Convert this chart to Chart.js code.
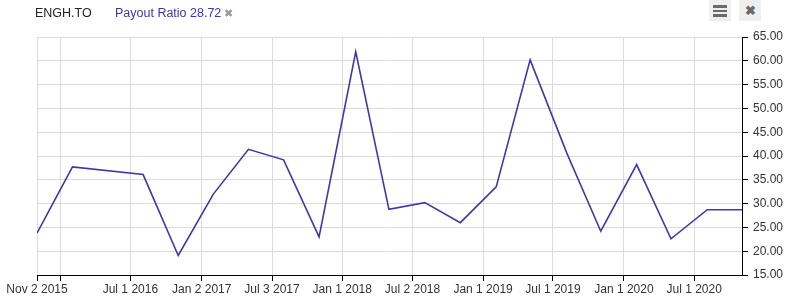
<!DOCTYPE html>
<html>
<head>
<meta charset="utf-8">
<script src="https://cdn.jsdelivr.net/npm/chart.js@4.4.1/dist/chart.umd.min.js"></script>
<style>
  body { margin: 0; background: #fff; font-family: "Liberation Sans", Arial, sans-serif; }
  #wrap { position: relative; width: 794px; height: 303px; }
  #title { position: absolute; left: 35px; top: 6px; font-size: 12.5px; color: #222; }
  #series { position: absolute; left: 115px; top: 6px; font-size: 12.5px; color: #3b34a8; }
  #series span { color: #999; font-size: 11px; margin-left: 3px; }
  .btn { position: absolute; top: 0; width: 22px; height: 21px; background: #efefef; color: #6a6a6a;
         font-size: 14px; text-align: center; line-height: 21px; }
  .bar { position: absolute; left: 4px; width: 14px; height: 2.5px; background: #6a6a6a; }
  canvas { position: absolute; left: 0; top: 0; }
</style>
</head>
<body>
<div id="wrap">
  <canvas id="myChart" width="794" height="303"></canvas>
  <div id="title">ENGH.TO</div>
  <div id="series">Payout Ratio 28.72<span>&#10006;</span></div>
  <div class="btn" style="left:709px">
    <div class="bar" style="top:5px"></div>
    <div class="bar" style="top:9.5px"></div>
    <div class="bar" style="top:14px"></div>
  </div>
  <div class="btn" style="left:739px;font-size:13px;font-weight:bold">&#10006;</div>
</div>
<script>
// Quarterly payout ratio points
const dates = ["2015-11-02", "2016-02-02", "2016-08-03", "2016-11-02", "2017-02-01",
  "2017-05-03", "2017-08-02", "2017-11-02", "2018-02-05", "2018-05-02",
  "2018-08-03", "2018-11-03", "2019-02-04", "2019-05-03", "2019-08-06",
  "2019-11-02", "2020-02-03", "2020-05-02", "2020-08-04", "2020-11-02"];
const payout = [23.8, 37.7, 36.1, 19.1, 32.0, 41.4, 39.2, 23.0, 61.9, 28.8,
  30.2, 26.0, 33.5, 60.2, 40.6, 24.2, 38.2, 22.6, 28.72, 28.72];

// x-axis ticks (empty label = gridline only)
const tickDates = ["2015-11-02", "2016-01-01", "2016-07-01", "2017-01-02", "2017-07-03",
  "2018-01-01", "2018-07-02", "2019-01-01", "2019-07-01", "2020-01-01", "2020-07-01"];
const tickLabels = ["Nov 2 2015", "", "Jul 1 2016", "Jan 2 2017", "Jul 3 2017",
  "Jan 1 2018", "Jul 2 2018", "Jan 1 2019", "Jul 1 2019", "Jan 1 2020", "Jul 1 2020"];

function toTime(s) {
  const p = s.split("-");
  return Date.UTC(+p[0], +p[1] - 1, +p[2]);
}

const points = dates.map((d, i) => ({ x: toTime(d), y: payout[i] }));
const tickTimes = tickDates.map(toTime);

const config = {
  type: "line",
  data: {
    datasets: [{
      label: "Payout Ratio",
      data: points,
      borderColor: "#4236ae",
      borderWidth: 1.6,
      pointRadius: 0,
      tension: 0,
    }],
  },
  options: {
    responsive: false,
    animation: false,
    layout: { padding: { left: 37, top: 37, right: 0, bottom: 0 } },
    plugins: { legend: { display: false }, tooltip: { enabled: false } },
    scales: {
      x: {
        type: "linear",
        min: toTime("2015-11-02"),
        max: toTime("2020-11-02"),
        afterBuildTicks: (scale) => { scale.ticks = tickTimes.map(v => ({ value: v })); },
        afterFit: (scale) => { scale.height = 28; },
        ticks: {
          autoSkip: false,
          maxRotation: 0,
          padding: 1,
          color: "#333",
          font: { family: "Liberation Sans", size: 12 },
          callback: (v) => tickLabels[tickTimes.indexOf(v)],
        },
        grid: { color: "#dcdcdc", tickColor: "#000", tickLength: 6 },
        border: { color: "#000", width: 1 },
      },
      y: {
        position: "right",
        min: 15,
        max: 65,
        afterFit: (scale) => { scale.width = 52; },
        ticks: {
          stepSize: 5,
          padding: 5,
          color: "#333",
          font: { family: "Liberation Sans", size: 12 },
          callback: (v) => v.toFixed(2),
        },
        grid: { color: "#dcdcdc", tickColor: "#000", tickLength: 6 },
        border: { color: "#000", width: 1 },
      },
    },
  },
};

const myChart = new Chart(document.getElementById("myChart"), config);
</script>
</body>
</html>
